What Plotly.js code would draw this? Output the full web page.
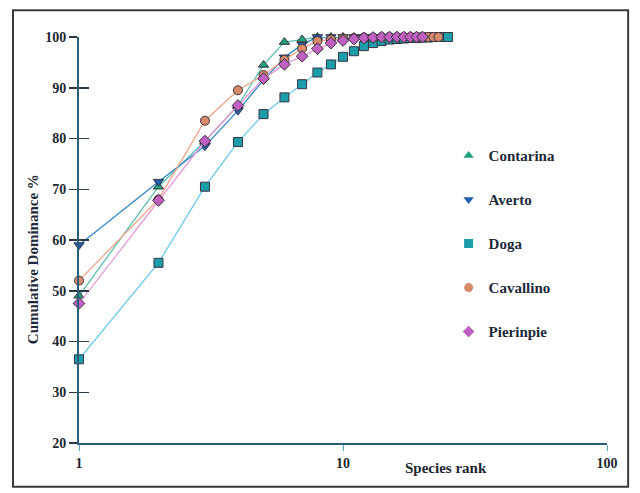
<!DOCTYPE html>
<html><head><meta charset="utf-8">
<script src="https://cdn.plot.ly/plotly-3.0.1.min.js"></script>
<style>html,body{margin:0;padding:0;background:#fff}#chart{width:640px;height:493px}</style>
</head><body><div id="chart"></div>
<script>
var seriesNames = ["Contarina", "Averto", "Doga", "Cavallino", "Pierinpie"];
var contarina = [49, 70.5, 79.5, 86.5, 94.5, 99, 99.5, 100, 100, 100, 100, 100];
var averto = [59, 71.5, 78.5, 85.5, 91.5, 96, 98.5, 100, 100, 100, 100, 100, 100, 100, 100, 100];
var doga = [36.5, 55.5, 70.5, 79.3, 84.8, 88.1, 90.7, 93, 94.6, 96.1, 97.2, 98.2, 98.8, 99.2, 99.5, 99.6, 99.7, 99.8, 99.8, 99.9, 99.9, 100, 100, 100, 100];
var cavallino = [52, 68, 83.5, 89.5, 92.5, 95.5, 97.7, 99.2, 99.5, 99.7, 99.8, 99.9, 99.9, 100, 100, 100, 100, 100, 100, 100, 100, 100, 100];
var pierinpie = [47.5, 67.8, 79.5, 86.5, 91.8, 94.6, 96.2, 97.7, 98.8, 99.3, 99.6, 99.8, 99.9, 100, 100, 100, 100, 100, 100, 100];
var yTicks = [20, 30, 40, 50, 60, 70, 80, 90, 100];
var xTicks = [1, 10, 100];
var xTickText = ["1", "10", "100"];

function ranks(a){ return a.map(function(_, i){ return i + 1; }); }

var styles = {
  Contarina: {data: contarina, sym: "triangle-up", mc: "#1fa37a", lc: "#5cbfae"},
  Averto: {data: averto, sym: "triangle-down", mc: "#1f5fb0", lc: "#2f86c8"},
  Doga: {data: doga, sym: "square", mc: "#1b9eaa", lc: "#6cc8ee"},
  Cavallino: {data: cavallino, sym: "circle", mc: "#d98a6a", lc: "#f0a488"},
  Pierinpie: {data: pierinpie, sym: "diamond", mc: "#c060c0", lc: "#e49ad8"}
};
var drawOrder = ["Doga", "Contarina", "Averto", "Cavallino", "Pierinpie"];
var traces = [];
drawOrder.forEach(function(n){
  var s = styles[n];
  traces.push({x: ranks(s.data), y: s.data, type: "scatter", mode: "lines+markers", showlegend: false,
    cliponaxis: false,
    line: {color: s.lc, width: 1.3},
    marker: {symbol: s.sym, size: 9, color: s.mc, line: {color: "#3a3340", width: 1}}});
});
seriesNames.forEach(function(n){
  var s = styles[n];
  traces.push({x: [null], y: [null], type: "scatter", mode: "markers", name: n, legendgroup: n,
    marker: {symbol: s.sym, size: 9, color: s.mc, line: {width: 0}}});
});

var layout = {
  width: 640, height: 493,
  margin: {l: 79, r: 33, t: 37, b: 50},
  paper_bgcolor: "#ffffff", plot_bgcolor: "#ffffff",
  showlegend: true,
  legend: {x: 0.70, y: 0.748, xanchor: "left", yanchor: "top", bgcolor: "rgba(0,0,0,0)",
    font: {family: "Liberation Serif", size: 15, color: "#1c2a3a", weight: "bold"},
    tracegroupgap: 21.5, traceorder: "grouped", itemwidth: 30},
  xaxis: {type: "log", range: [0, 2], tickvals: xTicks, ticktext: xTickText,
    showgrid: false, zeroline: false, showline: true, linecolor: "#2b5d7a", linewidth: 2,
    ticks: "outside", ticklen: 6, tickcolor: "#5aa0c8", tickwidth: 1,
    tickfont: {family: "Liberation Serif", size: 14, color: "#1c2630", weight: "bold"}},
  yaxis: {range: [20, 100], tickvals: yTicks, showgrid: false, zeroline: false,
    showline: true, linecolor: "#2b5d7a", linewidth: 2,
    ticks: "outside", ticklen: 8, tickcolor: "#2a3a4a", tickwidth: 1.5,
    tickfont: {family: "Liberation Serif", size: 14, color: "#1c2630", weight: "bold"}},
  yaxis2: {range: [20, 100], tickvals: yTicks, overlaying: "y", side: "left", showticklabels: false,
    showgrid: false, zeroline: false, showline: false, ticks: "inside", ticklen: 10,
    tickcolor: "#2a3a4a", tickwidth: 1.5},
  annotations: [
    {text: "<b>Species rank</b>", xref: "paper", yref: "paper", x: 0.695, y: -0.038, xanchor: "center", yanchor: "top",
      showarrow: false, font: {family: "Liberation Serif", size: 15, color: "#1c2630"}},
    {text: "<b>Cumulative Dominance %</b>", xref: "paper", yref: "paper", x: -0.087, y: 0.453, textangle: -90,
      xanchor: "center", yanchor: "middle", showarrow: false, font: {family: "Liberation Serif", size: 15, color: "#1c2a3a"}}
  ],
  shapes: [
    {type: "rect", xref: "paper", yref: "paper", x0: -0.125, x1: 1.04, y0: -0.108, y1: 1.066,
      line: {color: "#3a3a3a", width: 2}, fillcolor: "rgba(0,0,0,0)"}
  ]
};
traces.push({x: [1], y: [null], yaxis: "y2", type: "scatter", mode: "markers", showlegend: false, hoverinfo: "skip"});
Plotly.newPlot("chart", traces, layout, {displayModeBar: false, staticPlot: true});
</script></body></html>
